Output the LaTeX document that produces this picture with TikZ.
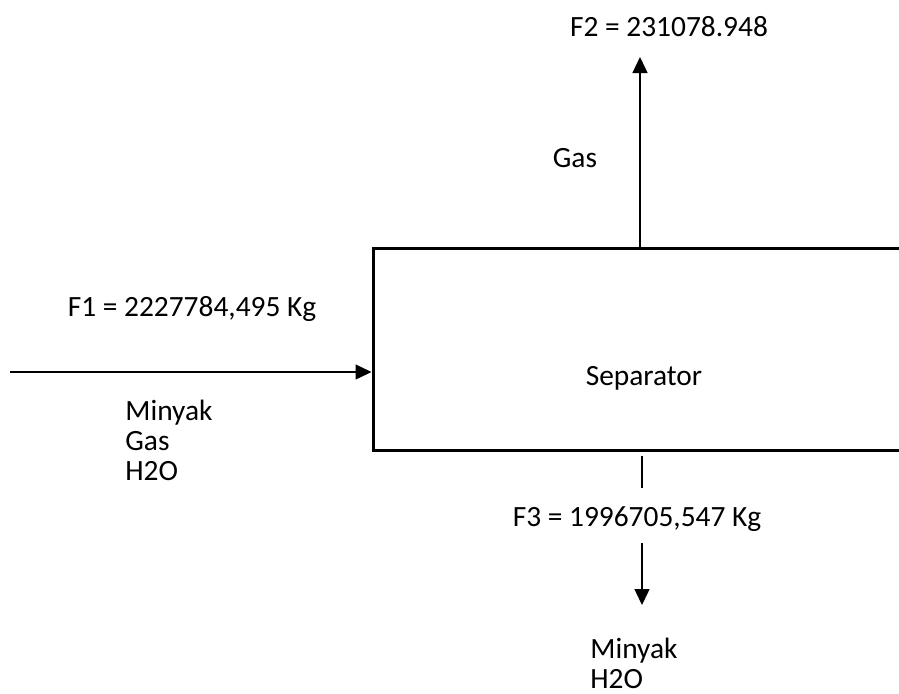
\documentclass[tikz,border=0pt]{standalone}
\usepackage{fontspec}
\setmainfont{Carlito}
\usetikzlibrary{arrows.meta,calc}
\tikzset{
  unitbox/.style={
    draw=black,
    line width=1.5pt,
    minimum width=280pt,
    minimum height=101pt,
    inner sep=0pt
  },
  tag/.style={
    font=\fontsize{14.7}{15}\selectfont,
    inner sep=0pt,
    align=left
  },
  stream/.style={
    -{Triangle[length=8pt,width=7.5pt]},
    line width=0.7pt
  },
  stub/.style={
    line width=0.7pt
  }
}
\begin{document}
\begin{tikzpicture}[x=0.5pt,y=-0.5pt]
  \useasboundingbox (0,0) rectangle (899,693);
  \clip (0,0) rectangle (899,693);

  % separator vessel, right side runs off the page
  \node[unitbox] (separator) at (653,349) {};
  \node[tag] (septext) at (644,378) {Separator};

  % stream labels
  \node[tag] (f1) at (192,309) {F1 = 2227784,495 Kg};
  \node[tag,anchor=west] (feedmix) at (125,440)
    {\fontsize{14.7}{14}\selectfont Minyak\\Gas\\H2O};
  \node[tag] (f2) at (669,27) {F2 = 231078.948};
  \node[tag] (gas) at (575,158) {Gas};
  \node[tag] (f3) at (637,519) {F3 = 1996705,547 Kg};
  \node[tag,anchor=west] (bottommix) at (590,663) {Minyak\\H2O};

  \coordinate (feed) at (10,372);
  \coordinate (gastop) at (640,57);
  \coordinate (liqtop) at (642,543);
  \coordinate (liqend) at (642,605);

  % connectors
  \draw[stream] (feed) -- (feed -| separator.west);
  \draw[stream] (gastop |- separator.north) -- (gastop);
  \draw[stub] ([yshift=-2pt]liqtop |- separator.south) -- ([yshift=-18pt]liqtop |- separator.south);
  \draw[stream] (liqtop) -- (liqend);
\end{tikzpicture}
\end{document}
